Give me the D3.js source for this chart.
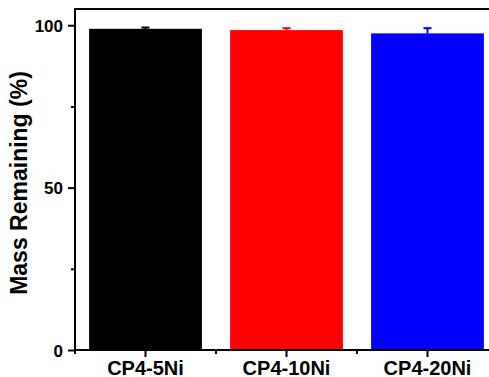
<!DOCTYPE html>
<html>
<head>
<meta charset="utf-8">
<script src="https://cdn.jsdelivr.net/npm/d3@7"></script>
<style>
  html, body { margin: 0; padding: 0; background: #fff; }
  svg { display: block; }
  text { font-family: "Liberation Sans", Arial, sans-serif; font-weight: bold; fill: #000; }
</style>
</head>
<body>
<svg id="chart" width="489" height="377"></svg>
<script>
// Mass remaining for each sample
const categories = ["CP4-5Ni", "CP4-10Ni", "CP4-20Ni"];
const massRemaining = [98.9, 98.5, 97.5];
const errors = [0.4, 0.6, 1.6];
const colors = ["#000000", "#ff0000", "#0000ff"];
const yTicks = [0, 50, 100];
const yMinorTicks = [25, 75];

const svg = d3.select("#chart");
const mLeft = 75, mTop = 9, mBottom = 350, step = 141;
const mRight = mLeft + step * categories.length;

const x = d3.scaleBand()
  .domain(categories)
  .range([mLeft, mRight])
  .paddingInner(0.2)
  .paddingOuter(0.1);

const y = d3.scaleLinear().domain([0, 105]).range([mBottom, mTop]);

// Bars
svg.append("g").selectAll("rect")
  .data(categories)
  .join("rect")
  .attr("x", d => x(d))
  .attr("width", x.bandwidth())
  .attr("y", (d, i) => y(massRemaining[i]))
  .attr("height", (d, i) => y(0) - y(massRemaining[i]))
  .attr("fill", (d, i) => colors[i]);

// Upper error bars
const eb = svg.append("g");
categories.forEach((c, i) => {
  const cx = x(c) + x.bandwidth() / 2;
  eb.append("line")
    .attr("x1", cx).attr("x2", cx)
    .attr("y1", y(massRemaining[i])).attr("y2", y(massRemaining[i] + errors[i]))
    .attr("stroke", colors[i]).attr("stroke-width", 2);
  eb.append("line")
    .attr("x1", cx - 4).attr("x2", cx + 4)
    .attr("y1", y(massRemaining[i] + errors[i])).attr("y2", y(massRemaining[i] + errors[i]))
    .attr("stroke", colors[i]).attr("stroke-width", 2);
});

// Y axis
const yAxis = svg.append("g")
  .attr("transform", `translate(${mLeft},0)`)
  .call(d3.axisLeft(y).tickValues(yTicks).tickSize(7).tickPadding(5));
yAxis.select(".domain").remove();
yAxis.selectAll(".tick line").attr("stroke", "#000").attr("stroke-width", 2);
yAxis.selectAll(".tick text").style("font-size", "17px").attr("dy", "0.36em");

svg.append("g")
  .attr("transform", `translate(${mLeft},0)`)
  .call(d3.axisLeft(y).tickValues(yMinorTicks).tickSize(4).tickFormat(""))
  .call(g => g.select(".domain").remove())
  .selectAll(".tick line").attr("stroke", "#000").attr("stroke-width", 2);

// X axis
const xAxis = svg.append("g")
  .attr("transform", `translate(0,${mBottom})`)
  .call(d3.axisBottom(x).tickSize(7).tickPadding(4));
xAxis.select(".domain").remove();
xAxis.selectAll(".tick line").attr("stroke", "#000").attr("stroke-width", 2);
xAxis.selectAll(".tick text").style("font-size", "20px").attr("dy", "0.71em");

// Minor ticks on category boundaries
const boundaries = d3.range(categories.length + 1).map(i => mLeft + i * step);
svg.append("g").selectAll("line")
  .data(boundaries)
  .join("line")
  .attr("x1", d => d).attr("x2", d => d)
  .attr("y1", mBottom).attr("y2", mBottom + 4)
  .attr("stroke", "#000").attr("stroke-width", 2);

// Frame
svg.append("g").attr("fill", "none").attr("stroke", "#000").attr("stroke-width", 2)
  .call(g => {
    g.append("line").attr("x1", mLeft).attr("x2", mRight).attr("y1", mTop).attr("y2", mTop);
    g.append("line").attr("x1", mLeft).attr("x2", mRight).attr("y1", mBottom).attr("y2", mBottom);
    g.append("line").attr("x1", mLeft).attr("x2", mLeft).attr("y1", mTop - 1).attr("y2", mBottom + 1);
  });

// Y axis title
svg.append("text")
  .attr("transform", `translate(27,${183}) rotate(-90)`)
  .attr("text-anchor", "middle")
  .style("font-size", "23px")
  .text("Mass Remaining (%)");
</script>
</body>
</html>
